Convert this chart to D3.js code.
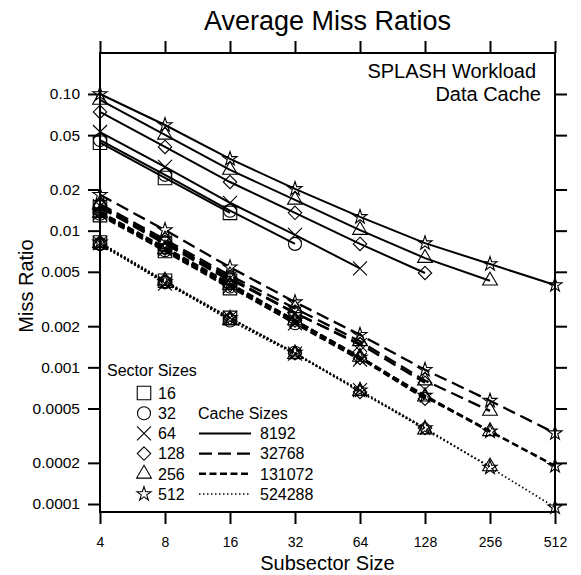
<!DOCTYPE html>
<html>
<head>
<meta charset="utf-8">
<script src="https://cdn.jsdelivr.net/npm/d3@7"></script>
<style>
  html, body { margin: 0; padding: 0; background: #fff; overflow: hidden; }
  svg { display: block; font-family: "Liberation Sans", Arial, sans-serif; }
  .Axis line { stroke: #000; stroke-width: 2; }
  .Series { fill: none; stroke: #000; }
  .Marker { fill: none; stroke: #000; stroke-width: 1.1; }
</style>
</head>
<body>
<svg id="chart" width="581" height="575" viewBox="0 0 581 575"></svg>
<script>
const subsectorSizes = [4, 8, 16, 32, 64, 128, 256, 512];
const sectorSizes = [16, 32, 64, 128, 256, 512];
const cacheSizes = [8192, 32768, 131072, 524288];
const yTickValues = [0.1, 0.05, 0.02, 0.01, 0.005, 0.002, 0.001, 0.0005, 0.0002, 0.0001];
const yTickLabels = ["0.10", "0.05", "0.02", "0.01", "0.005", "0.002", "0.001", "0.0005", "0.0002", "0.0001"];

// One row per sector size (16 .. 512), values start at subsector size 4.
const miss8192 = [
  [0.0440, 0.0243, 0.0135],
  [0.0460, 0.0256, 0.0140, 0.0080],
  [0.0527, 0.0293, 0.0160, 0.0093, 0.0053],
  [0.0739, 0.0410, 0.0227, 0.0135, 0.0080, 0.0049],
  [0.0904, 0.0502, 0.0278, 0.0168, 0.0101, 0.0063, 0.0043],
  [0.1000, 0.0593, 0.0335, 0.0202, 0.0126, 0.0081, 0.0057, 0.0040]
];
const miss32768 = [
  [0.0148, 0.0080, 0.0043],
  [0.0150, 0.0082, 0.0044, 0.0025],
  [0.0151, 0.0082, 0.0045, 0.0025, 0.00146],
  [0.0153, 0.0083, 0.0045, 0.0025, 0.00148, 0.00077],
  [0.0157, 0.0086, 0.0047, 0.0027, 0.00155, 0.00080, 0.00048],
  [0.0183, 0.0101, 0.0054, 0.0030, 0.00173, 0.00096, 0.00057, 0.00033]
];
const miss131072 = [
  [0.0130, 0.0071, 0.0038],
  [0.0133, 0.0072, 0.0039, 0.0021],
  [0.0134, 0.0073, 0.0039, 0.0021, 0.00114],
  [0.0136, 0.0074, 0.0040, 0.0022, 0.00117, 0.00059],
  [0.0135, 0.0073, 0.0040, 0.0022, 0.00119, 0.00061, 0.00034],
  [0.0137, 0.0075, 0.0041, 0.0022, 0.00118, 0.00062, 0.00034, 0.00019]
];
const miss524288 = [
  [0.0082, 0.0043, 0.0023],
  [0.0080, 0.0042, 0.0022, 0.00128],
  [0.0081, 0.0041, 0.0023, 0.00126, 0.00068],
  [0.0079, 0.0042, 0.0023, 0.00127, 0.00066, 0.00036],
  [0.0081, 0.0043, 0.0022, 0.00125, 0.00067, 0.00035, 0.000188],
  [0.0082, 0.0042, 0.0023, 0.00128, 0.00068, 0.00036, 0.000185, 0.0000945]
];

const missByCache = [miss8192, miss32768, miss131072, miss524288];
const lineStyles = [
  {dash: null, width: 2},
  {dash: "13,6", width: 2.3},
  {dash: "7,3.5", width: 2.6},
  {dash: "1.5,2.5", width: 1.7}
];

// Marker shapes, one per sector size.
const diamond = {draw(ctx, size) {
  const r = Math.sqrt(size) / 2;
  ctx.moveTo(0, -r); ctx.lineTo(r, 0); ctx.lineTo(0, r); ctx.lineTo(-r, 0); ctx.closePath();
}};
const xCross = {draw(ctx, size) {
  const r = Math.sqrt(size) / 2;
  ctx.moveTo(-r, -r); ctx.lineTo(r, r); ctx.moveTo(r, -r); ctx.lineTo(-r, r);
}};
const markerTypes = [
  [d3.symbolSquare, 182],
  [d3.symbolCircle, 133],
  [xCross, 196],
  [diamond, 180],
  [d3.symbolTriangle, 95],
  [d3.symbolStar, 62]
];
const markerPath = (i) => d3.symbol(markerTypes[i][0], markerTypes[i][1])();

// Set up SVG coordinates.

const svg = d3.select("#chart");
const margin = {top: 53, right: 26, bottom: 63, left: 100};
const width = 581, height = 575;
const innerWidth = width - margin.left - margin.right;
const innerHeight = height - margin.top - margin.bottom;

const xScale = d3.scaleLog().base(2)
  .domain([4, 512])
  .range([0, innerWidth]);
const yScale = d3.scaleLog()
  .domain([8.74e-5, 0.1995])
  .range([innerHeight, 0]);

const g = svg.append("g")
  .attr("transform", `translate(${margin.left}, ${margin.top})`);

// Draw axes, ticks on all four sides (labels only bottom and left).

const tick = 12;
const styleAxis = (fontSize) => (a) => {
  a.attr("font-size", fontSize).attr("font-family", null);
  a.select(".domain").remove();
  a.selectAll("text").attr("fill", "#000");
};
const noLabels = (a) => {
  a.attr("font-size", null).attr("font-family", null);
  a.select(".domain").remove();
  a.selectAll("text").remove();
};
g.append("g").attr("class", "Axis XAxis")
  .attr("transform", `translate(0, ${innerHeight})`)
  .call(d3.axisBottom(xScale).tickValues(subsectorSizes).tickFormat(d3.format("d"))
    .tickSizeInner(tick).tickSizeOuter(0).tickPadding(13))
  .call(styleAxis(14));
g.append("g").attr("class", "Axis")
  .call(d3.axisTop(xScale).tickValues(subsectorSizes)
    .tickSizeInner(tick).tickSizeOuter(0))
  .call(noLabels);
g.append("g").attr("class", "Axis YAxis")
  .call(d3.axisLeft(yScale).tickValues(yTickValues).tickFormat((d, i) => yTickLabels[i])
    .tickSizeInner(tick).tickSizeOuter(0).tickPadding(8))
  .call(styleAxis(15.5));
g.append("g").attr("class", "Axis")
  .attr("transform", `translate(${innerWidth}, 0)`)
  .call(d3.axisRight(yScale).tickValues(yTickValues)
    .tickSizeInner(tick).tickSizeOuter(0))
  .call(noLabels);
g.append("rect")
  .attr("width", innerWidth)
  .attr("height", innerHeight)
  .attr("fill", "none")
  .attr("stroke", "#000")
  .attr("stroke-width", 2);

// Draw lines, then markers.

const lineGenerator = d3.line()
  .x((v, i) => xScale(subsectorSizes[i]))
  .y((v) => yScale(v));

const gSeries = g.append("g");
missByCache.forEach((rows, c) => {
  rows.forEach((row) => {
    gSeries.append("path")
      .attr("class", "Series")
      .attr("d", lineGenerator(row))
      .attr("stroke-width", lineStyles[c].width)
      .attr("stroke-dasharray", lineStyles[c].dash);
  });
});
missByCache.forEach((rows) => {
  rows.forEach((row, s) => {
    gSeries.selectAll(null)
      .data(row)
      .join("path")
      .attr("class", "Marker")
      .attr("transform", (v, i) => `translate(${xScale(subsectorSizes[i])}, ${yScale(v)})`)
      .attr("d", markerPath(s));
  });
});

// Titles and labels.

svg.append("text")
  .attr("x", margin.left + innerWidth / 2)
  .attr("y", 30)
  .attr("text-anchor", "middle")
  .attr("font-size", 27)
  .text("Average Miss Ratios");
svg.append("text")
  .attr("x", margin.left + innerWidth / 2)
  .attr("y", 570)
  .attr("text-anchor", "middle")
  .attr("font-size", 20)
  .text("Subsector Size");
svg.append("text")
  .attr("transform", `translate(33, 286) rotate(-90)`)
  .attr("text-anchor", "middle")
  .attr("font-size", 20)
  .text("Miss Ratio");
svg.append("text")
  .attr("x", 536)
  .attr("y", 78)
  .attr("text-anchor", "end")
  .attr("font-size", 20)
  .text("SPLASH Workload");
svg.append("text")
  .attr("x", 541)
  .attr("y", 101)
  .attr("text-anchor", "end")
  .attr("font-size", 20)
  .text("Data Cache");

// Draw Legends.

const rowY = (i) => 393 + i * 20.2;
const gLegend = svg.append("g").attr("font-size", 16);
gLegend.append("text")
  .attr("x", 107)
  .attr("y", 376)
  .text("Sector Sizes");
sectorSizes.forEach((s, i) => {
  gLegend.append("path")
    .attr("class", "Marker")
    .attr("transform", `translate(144, ${rowY(i)})`)
    .attr("d", markerPath(i));
  gLegend.append("text")
    .attr("x", 158)
    .attr("y", rowY(i))
    .attr("dy", "0.36em")
    .text(s);
});
gLegend.append("text")
  .attr("x", 198)
  .attr("y", rowY(1))
  .attr("dy", "0.36em")
  .text("Cache Sizes");
cacheSizes.forEach((c, i) => {
  gLegend.append("line")
    .attr("class", "Series")
    .attr("x1", 199).attr("x2", 251)
    .attr("y1", rowY(i + 2)).attr("y2", rowY(i + 2))
    .attr("stroke-width", lineStyles[i].width)
    .attr("stroke-dasharray", lineStyles[i].dash);
  gLegend.append("text")
    .attr("x", 260)
    .attr("y", rowY(i + 2))
    .attr("dy", "0.36em")
    .text(c);
});
</script>
</body>
</html>
